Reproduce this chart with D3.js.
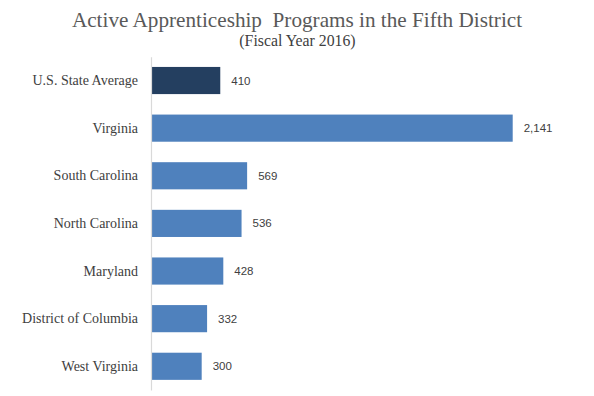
<!DOCTYPE html>
<html>
<head>
<meta charset="utf-8">
<script src="https://cdn.jsdelivr.net/npm/d3@7"></script>
<style>
  body { margin: 0; background: #fff; }
  svg text { white-space: pre; }
</style>
</head>
<body>
<svg></svg>
<script>
//chart size
const width = 594;
const height = 396;

//data
const categories = ["U.S. State Average", "Virginia", "South Carolina", "North Carolina", "Maryland", "District of Columbia", "West Virginia"];
const programs = [410, 2141, 569, 536, 428, 332, 300];
const barColors = ["#243f60", "#4f81bd", "#4f81bd", "#4f81bd", "#4f81bd", "#4f81bd", "#4f81bd"];

const svg = d3.select("svg")
  .attr("width", width)
  .attr("height", height);

//scales
const x = d3.scaleLinear()
  .domain([0, 2141])
  .range([151, 512.7]);

const y = d3.scaleBand()
  .domain(categories)
  .range([56.7, 390.1])
  .paddingInner(0.43)
  .paddingOuter(0.215);

//title
svg.append("text")
  .attr("x", 297)
  .attr("y", 27)
  .attr("text-anchor", "middle")
  .attr("font-family", "Liberation Serif, serif")
  .attr("font-size", 21.2)
  .attr("fill", "#595959")
  .text("Active Apprenticeship  Programs in the Fifth District");

svg.append("text")
  .attr("x", 297.5)
  .attr("y", 46)
  .attr("text-anchor", "middle")
  .attr("font-family", "Liberation Serif, serif")
  .attr("font-size", 15.8)
  .attr("fill", "#404040")
  .text("(Fiscal Year 2016)");

//bars
svg.selectAll("rect.bar")
  .data(categories)
  .enter().append("rect")
  .attr("class", "bar")
  .attr("x", x(0))
  .attr("y", d => y(d))
  .attr("width", (d, i) => x(programs[i]) - x(0))
  .attr("height", y.bandwidth())
  .attr("fill", (d, i) => barColors[i]);

//value labels
svg.selectAll("text.val")
  .data(categories)
  .enter().append("text")
  .attr("class", "val")
  .attr("x", (d, i) => x(programs[i]) + 11)
  .attr("y", d => y(d) + y.bandwidth() / 2)
  .attr("dy", "0.35em")
  .attr("font-family", "Liberation Sans, sans-serif")
  .attr("font-size", 11.5)
  .attr("fill", "#404040")
  .text((d, i) => d3.format(",")(programs[i]));

//y axis
const yAxis = svg.append("g")
  .attr("transform", "translate(" + x(0) + ",0)")
  .call(d3.axisLeft(y).tickSize(0).tickPadding(13));

yAxis.select(".domain")
  .attr("stroke", "#d9d9d9")
  .attr("stroke-width", 1.2);

yAxis.selectAll("text")
  .attr("font-family", "Liberation Serif, serif")
  .attr("font-size", 14)
  .attr("fill", "#404040");
</script>
</body>
</html>
